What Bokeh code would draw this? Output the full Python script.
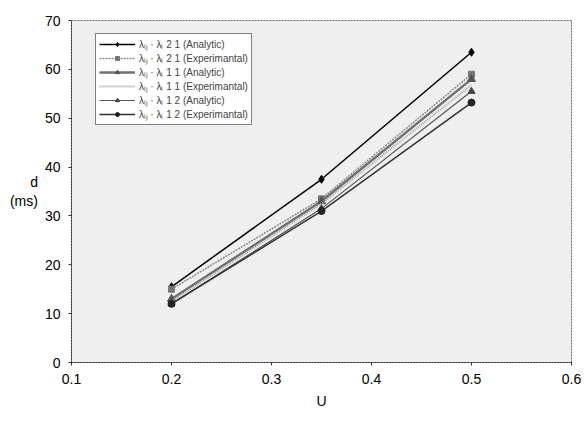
from bokeh.plotting import figure
from bokeh.models import Legend, LegendItem, FixedTicker
from bokeh.embed import file_html
from bokeh.resources import INLINE

# Data
u = [0.2, 0.35, 0.5]
s121_ana = [15.5, 37.5, 63.5]
s121_exp = [15.0, 33.5, 59.0]
s111_ana = [13.0, 33.0, 58.0]
s111_exp = [12.5, 32.5, 56.8]
s112_ana = [12.0, 31.5, 55.5]
s112_exp = [12.0, 31.0, 53.2]
labels = [
    "λᵢⱼ · λₗ 2 1 (Analytic)",
    "λᵢⱼ · λₗ 2 1 (Experimantal)",
    "λᵢⱼ · λₗ 1 1 (Analytic)",
    "λᵢⱼ · λₗ 1 1 (Experimantal)",
    "λᵢⱼ · λₗ 1 2 (Analytic)",
    "λᵢⱼ · λₗ 1 2 (Experimantal)",
]
x_ticks = [0.1, 0.2, 0.3, 0.4, 0.5, 0.6]
y_ticks = [0, 10, 20, 30, 40, 50, 60, 70]

FONT = "Liberation Sans"

p = figure(width=588, height=423, output_backend="svg", toolbar_location=None,
           x_range=(0.1, 0.6), y_range=(0, 70),
           min_border_left=71, min_border_right=17, min_border_top=20, min_border_bottom=61)
p.background_fill_color = "#efefef"
p.border_fill_color = "white"
p.outline_line_color = "#666666"
p.outline_line_dash = "2 1"
p.xgrid.grid_line_color = None
p.ygrid.grid_line_color = None

for ax in (p.xaxis, p.yaxis):
    ax.axis_line_color = "#333333"
    ax.axis_line_dash = "2 1"
    ax.major_tick_line_color = "#333333"
    ax.major_tick_in = 0
    ax.major_tick_out = 3
    ax.minor_tick_line_color = None
    ax.major_label_text_font = FONT
    ax.major_label_text_font_size = "14px"
    ax.major_label_text_color = "black"
    ax.axis_label_text_color = "black"
    ax.axis_label_text_font = FONT
    ax.axis_label_text_font_style = "normal"
    ax.axis_label_text_font_size = "14px"
p.xaxis.ticker = FixedTicker(ticks=x_ticks)
p.yaxis.ticker = FixedTicker(ticks=y_ticks)
p.xaxis.major_label_standoff = 8
p.yaxis.major_label_standoff = 8
p.xaxis.axis_label = "U"
p.xaxis.axis_label_standoff = 6

p.yaxis.axis_label = "d\n(ms)"
p.yaxis.axis_label_standoff = 4
try:
    p.yaxis.axis_label_orientation = "horizontal"
except Exception:
    pass

series = [s121_ana, s121_exp, s111_ana, s111_exp, s112_ana, s112_exp]
styles = [
    dict(color="black", width=1.5, dash="solid", marker="diamond", size=8, mcolor="black"),
    dict(color="#8a8a8a", width=1.5, dash="2 1", marker="square", size=6, mcolor="#777777"),
    dict(color="#707070", width=2.5, dash="solid", marker="triangle", size=8, mcolor="#555555"),
    dict(color="#a8a8a8", width=2.0, dash="1 1", marker=None, size=0, mcolor=None),
    dict(color="#555555", width=1.2, dash="solid", marker="triangle", size=7, mcolor="#444444"),
    dict(color="#333333", width=1.5, dash="solid", marker="circle", size=7, mcolor="#222222"),
]

items = []
for ys, st, lab in zip(series, styles, labels):
    rs = []
    r = p.line(u, ys, line_color=st["color"], line_width=st["width"], line_dash=st["dash"])
    rs.append(r)
    if st["marker"]:
        m = p.scatter(u, ys, marker=st["marker"], size=st["size"],
                      fill_color=st["mcolor"], line_color=st["mcolor"])
        rs.append(m)
    items.append(LegendItem(label=lab, renderers=rs))

legend = Legend(items=items, location=(24, 237))
legend.label_text_font = FONT
legend.label_text_font_size = "10px"
legend.label_height = 10
legend.glyph_height = 10
legend.glyph_width = 36
legend.spacing = 0
legend.padding = 3
legend.margin = 0
legend.label_standoff = 4
legend.border_line_color = "black"
legend.border_line_width = 1
legend.background_fill_color = "white"
legend.background_fill_alpha = 1
p.add_layout(legend, "center")

open("out.html", "w").write(file_html(p, INLINE))
